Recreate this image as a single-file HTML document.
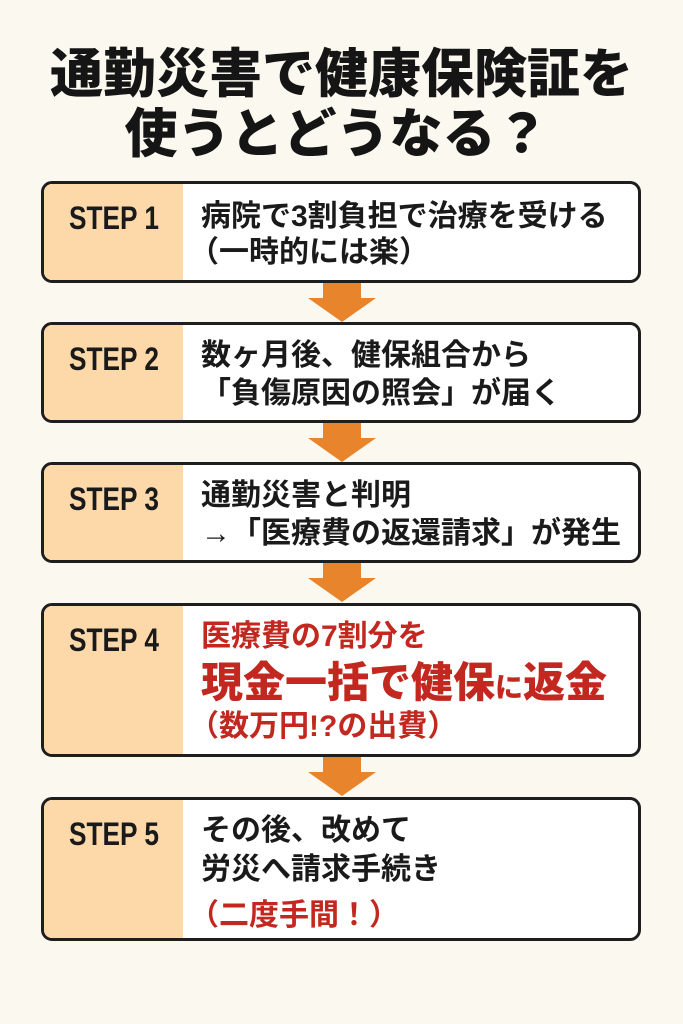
<!DOCTYPE html>
<html><head><meta charset="utf-8"><style>
body{margin:0;width:683px;height:1024px;background:#fbf8ef;position:relative;overflow:hidden;font-family:"Liberation Sans","Noto Sans CJK JP",sans-serif;}
.t{position:absolute;left:0;width:683px;text-align:center;font-weight:900;font-size:53px;color:#151515;line-height:1;}
.box{position:absolute;left:41px;width:594px;border:3px solid #1e1e1e;border-radius:11px;background:#fff;overflow:hidden;}
.lab{position:absolute;left:0;top:0;bottom:0;width:139px;background:#fdd9aa;}
.lab span{position:absolute;left:25px;top:16px;font-weight:bold;font-size:32px;color:#1a1a1a;transform:scaleX(0.82);transform-origin:left top;font-family:"Liberation Sans Narrow","Liberation Sans",sans-serif;}
.tx{position:absolute;left:157px;font-weight:bold;font-size:30px;color:#1a1a1a;white-space:nowrap;line-height:1;}
.red{color:#c2281f;}
.p{left:145px;}
.arr{position:absolute;left:308px;width:68px;}
.arr .s{position:absolute;left:15px;width:38px;top:0;height:15px;background:#e8842c;}
.arr .h{position:absolute;left:0;top:15px;width:0;height:0;border-left:34px solid transparent;border-right:34px solid transparent;border-top:24px solid #e8842c;}
</style></head><body>
<div class="t" style="top:48px">通勤災害で健康保険証を</div>
<div class="t" style="top:108px;padding-right:10px;box-sizing:border-box">使うとどうなる？</div>

<div class="box" style="top:181px;height:96px"><div class="lab"><span>STEP 1</span></div>
<div class="tx" style="top:18px">病院で3割負担で治療を受ける</div>
<div class="tx p" style="top:54px">（一時的には楽）</div></div>
<div class="arr" style="top:283px"><div class="s"></div><div class="h"></div></div>

<div class="box" style="top:322px;height:95px"><div class="lab"><span>STEP 2</span></div>
<div class="tx" style="top:16px">数ヶ月後、健保組合から</div>
<div class="tx" style="top:54px">「負傷原因の照会」が届く</div></div>
<div class="arr" style="top:423px"><div class="s"></div><div class="h"></div></div>

<div class="box" style="top:462px;height:95px"><div class="lab"><span>STEP 3</span></div>
<div class="tx" style="top:16px">通勤災害と判明</div>
<div class="tx" style="top:54px">→「医療費の返還請求」が発生</div></div>
<div class="arr" style="top:563px"><div class="s"></div><div class="h"></div></div>

<div class="box" style="top:603px;height:148px"><div class="lab"><span>STEP 4</span></div>
<div class="tx red" style="top:16px">医療費の7割分を</div>
<div class="tx red" style="top:56px;font-size:42px;font-weight:900">現金一括で健保<span style="font-size:28px">に</span>返金</div>
<div class="tx red p" style="top:106px">（数万円!?の出費）</div></div>
<div class="arr" style="top:757px"><div class="s"></div><div class="h"></div></div>

<div class="box" style="top:797px;height:138px"><div class="lab"><span>STEP 5</span></div>
<div class="tx" style="top:16px">その後、改めて</div>
<div class="tx" style="top:55px">労災へ請求手続き</div>
<div class="tx red p" style="top:101px">（二度手間！）</div></div>
</body></html>
